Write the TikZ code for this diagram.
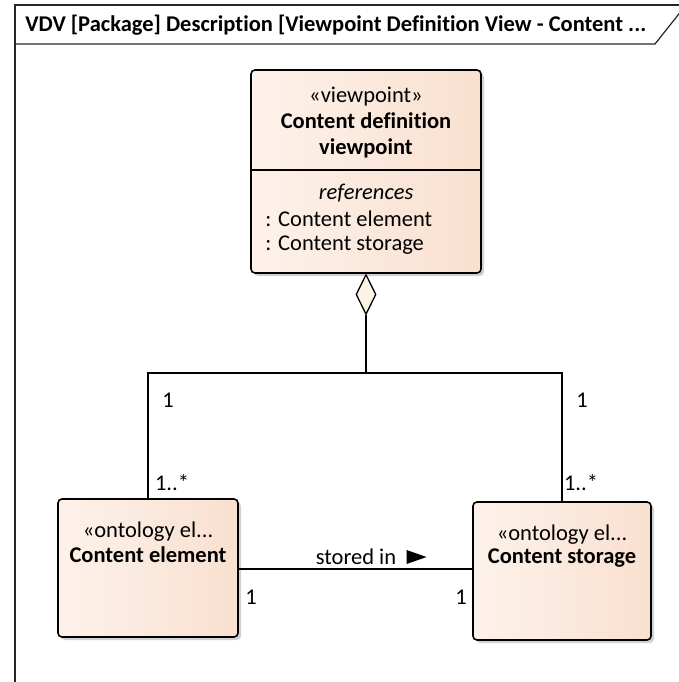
\documentclass[tikz,border=0pt]{standalone}
\usepackage{fontspec}
\setmainfont{Carlito}[Ligatures=CommonOff]
\usetikzlibrary{shapes.geometric,shadows}
\definecolor{boxleft}{RGB}{253,242,235}
\definecolor{boxright}{RGB}{249,224,207}
\definecolor{diamfill}{RGB}{252,242,230}
\newcommand\bodyfont{\fontsize{22.5}{26}\selectfont}
\newcommand\titlefont{\fontsize{22.5}{26}\selectfont}
\begin{document}
\begin{tikzpicture}[x=1pt, y=-1pt, thick]
\tikzset{umlbox/.style={draw=black, line width=1.6pt, rounded corners=4pt, left color=boxleft, right color=boxright, drop shadow={shadow xshift=3pt, shadow yshift=-3pt, fill=black!18, opacity=1}},
  txt/.style={font=\bodyfont, inner sep=0pt},
  conn/.style={draw=black, line width=1.3pt}}
\useasboundingbox (0,0) rectangle (679,682);
% frame
\draw[line width=1.2pt, black!85] (15,690) -- (15,5) -- (690,5);
\draw[line width=1.2pt, black!85] (15,44) -- (655,44) -- (686,5);
\node[font=\titlefont\bfseries, anchor=west, inner sep=0pt] (title) at (25,25.5) {VDV [Package] Description [Viewpoint Definition View - Content ...};
% viewpoint
\node[umlbox, minimum width=230pt, minimum height=203pt] (vp) at (366,171.5) {};
\node[txt] (vpst) at (366,97) {«viewpoint»};
\node[txt, font=\bodyfont\bfseries, align=center] (vpname) at (366,135.5) {Content definition\\viewpoint};
\draw[line width=1.3pt] (vp.west |- 0,170) -- (vp.east |- 0,170);
\node[txt, font=\bodyfont\itshape] (vpref) at (366,193) {references};
\node[txt, anchor=west] (vpr1) at (265,219) {: Content element};
\node[txt, anchor=west] (vpr2) at (265,245) {: Content storage};
% ontology elements
\node[umlbox, minimum width=180pt, minimum height=138pt] (elem) at (148,568) {};
\node[txt] (elemst) at (148,532) {«ontology el...};
\node[txt, font=\bodyfont\bfseries] (elemname) at (148,555) {Content element};
\node[umlbox, minimum width=178pt, minimum height=138pt] (stor) at (562,571) {};
\node[txt] (storst) at (562,535) {«ontology el...};
\node[txt, font=\bodyfont\bfseries] (storname) at (562,558) {Content storage};
% aggregation
\node[diamond, draw=black, line width=1.3pt, fill=diamfill, minimum width=20pt, minimum height=40pt, inner sep=0pt, anchor=north] (agg) at (vp.south) {};
\coordinate (bar) at (366,373);
\draw[conn] (agg.south) -- (bar) -| (elem.north);
\draw[conn] (bar) -| (stor.north);
\node[txt] (m1) at (168,400) {1};
\node[txt] (m2) at (582,400) {1};
\node[txt] (m3) at (172,483) {1..*};
\node[txt] (m4) at (581,483) {1..*};
% stored in
\draw[conn] (elem.east |- 0,569) -- (stor.west |- 0,569);
\node[txt] (lbl) at (356,557) {stored in};
\fill ([xshift=10pt,yshift=-7pt]lbl.east) -- ([xshift=30pt]lbl.east) -- ([xshift=10pt,yshift=7pt]lbl.east) -- cycle;
\node[txt] (m5) at (251,597) {1};
\node[txt] (m6) at (461,597) {1};
\end{tikzpicture}
\end{document}
